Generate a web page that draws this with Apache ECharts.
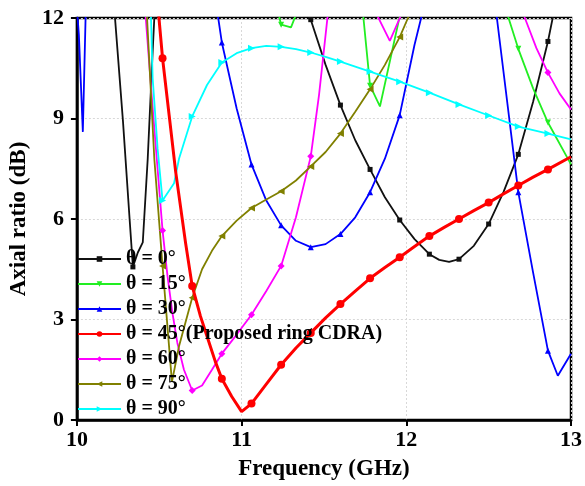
<!DOCTYPE html>
<html><head><meta charset="utf-8">
<script src="https://cdn.jsdelivr.net/npm/echarts@6/dist/echarts.min.js"></script>
<style>html,body{margin:0;padding:0;background:#fff}#c{width:585px;height:486px}</style>
</head><body><div id="c"></div>
<script>
const seriesNames = ['θ = 0°','θ = 15°','θ = 30°','θ = 45°(Proposed ring CDRA)','θ = 60°','θ = 75°','θ = 90°'];
const xTicks = [10, 11, 12, 13];
const yTicks = [0, 3, 6, 9, 12];
const markerFreqs = [10.16,10.34,10.52,10.70,10.88,11.06,11.24,11.42,11.60,11.78,11.96,12.14,12.32,12.50,12.68,12.86];

const theta0 = [[10.0,18],[10.2,14],[10.28,8.9],[10.32,6.0],[10.34,4.57],[10.37,5.0],[10.40,5.3],[10.43,7.8],[10.46,11.0],[10.49,14],[10.7,20],[11.0,20],[11.3,13.8],[11.42,11.95],[11.51,10.6],[11.60,9.4],[11.69,8.35],[11.78,7.48],[11.87,6.65],[11.96,5.97],[12.05,5.4],[12.14,4.95],[12.20,4.78],[12.26,4.72],[12.32,4.8],[12.41,5.2],[12.50,5.85],[12.59,6.8],[12.68,7.93],[12.77,9.5],[12.86,11.3],[12.93,13.0],[13.0,14.6]];
const theta15 = [[10.0,20],[10.5,22],[11.0,16],[11.18,13],[11.24,11.8],[11.30,11.72],[11.37,12.6],[11.5,16],[11.70,14],[11.78,9.98],[11.84,9.36],[11.96,12.05],[12.05,14],[12.3,18],[12.55,13.1],[12.68,11.08],[12.77,9.9],[12.86,8.88],[13.0,7.63]];
const theta30 = [[10.0,12.3],[10.012,11.5],[10.036,8.6],[10.06,13.5],[10.3,22],[10.6,22],[10.84,12.6],[10.88,11.27],[10.97,9.3],[11.06,7.63],[11.15,6.55],[11.24,5.81],[11.33,5.35],[11.42,5.16],[11.51,5.25],[11.60,5.55],[11.69,6.05],[11.78,6.8],[11.87,7.8],[11.96,9.1],[12.05,11.2],[12.14,13],[12.3,16],[12.5,13.5],[12.55,12.0],[12.68,6.8],[12.77,4.4],[12.86,2.07],[12.92,1.32],[13.0,1.98]];
const theta45 = [[10.0,25],[10.3,20],[10.48,13],[10.52,10.8],[10.56,9.1],[10.60,7.4],[10.66,5.28],[10.70,4.0],[10.75,3.1],[10.79,2.5],[10.84,1.75],[10.88,1.23],[10.94,0.7],[11.0,0.25],[11.06,0.49],[11.15,1.07],[11.24,1.65],[11.33,2.15],[11.42,2.6],[11.51,3.05],[11.60,3.46],[11.69,3.85],[11.78,4.23],[11.87,4.55],[11.96,4.86],[12.05,5.18],[12.14,5.49],[12.23,5.75],[12.32,6.0],[12.41,6.25],[12.50,6.49],[12.59,6.75],[12.68,7.0],[12.77,7.25],[12.86,7.48],[13.0,7.86]];
const theta60 = [[10.0,25],[10.3,18],[10.40,13.3],[10.418,12],[10.457,9.5],[10.52,5.66],[10.55,4.3],[10.58,3.2],[10.61,2.3],[10.65,1.5],[10.70,0.88],[10.76,1.03],[10.82,1.5],[10.88,1.98],[10.97,2.55],[11.06,3.14],[11.15,3.85],[11.24,4.6],[11.33,6.05],[11.42,7.87],[11.47,9.7],[11.53,12.4],[11.6,14],[11.73,13],[11.90,11.32],[12.05,13.0],[12.3,17],[12.6,13.6],[12.72,12.0],[12.79,11.1],[12.86,10.37],[12.93,9.75],[13.0,9.27]];
const theta75 = [[10.0,25],[10.3,18],[10.40,14.5],[10.426,12],[10.47,7.8],[10.52,4.6],[10.577,1.14],[10.62,2.2],[10.70,3.65],[10.76,4.5],[10.82,5.05],[10.88,5.49],[10.97,5.95],[11.06,6.33],[11.15,6.58],[11.24,6.83],[11.33,7.15],[11.42,7.57],[11.51,8.0],[11.60,8.55],[11.69,9.2],[11.78,9.87],[11.87,10.6],[11.96,11.43],[12.01,12.0],[12.1,13]];
const theta90 = [[10.0,25],[10.3,18],[10.43,14.5],[10.45,12],[10.46,10.2],[10.49,8.1],[10.52,6.55],[10.59,7.07],[10.62,7.8],[10.70,9.06],[10.79,10.0],[10.88,10.67],[10.97,10.95],[11.06,11.1],[11.15,11.17],[11.24,11.14],[11.33,11.07],[11.42,10.97],[11.51,10.84],[11.60,10.7],[11.69,10.55],[11.78,10.4],[11.87,10.25],[11.96,10.1],[12.14,9.77],[12.32,9.42],[12.50,9.09],[12.68,8.76],[12.86,8.55],[13.0,8.38]];

const seriesData = [theta0, theta15, theta30, theta45, theta60, theta75, theta90];
const colors = ['#111111','#22ee22','#0000ff','#ff0000','#ff00ff','#808000','#00ffff'];
const symbols = ['rect','path://M0,0 L10,0 L5,10 Z','triangle','circle','diamond','path://M10,0 L10,10 L0,5 Z','path://M0,0 L10,5 L0,10 Z'];
const symbolSizes = [5,6,6,8,7,7,7];
const lineWidths = [1.8,1.8,1.8,3,1.8,1.8,1.8];

function isMarker(f){ return markerFreqs.some(m => Math.abs(m - f) < 1e-6); }
function build(points){ return points.map(p => isMarker(p[0]) ? p : {value: p, symbol: 'none'}); }

const serif = 'Liberation Serif';
const chart = echarts.init(document.getElementById('c'));
chart.setOption({
  animation: false,
  backgroundColor: '#fff',
  grid: {left: 72, right: 13, top: 18, bottom: 65, show: true, borderColor: '#000', borderWidth: 2.5, backgroundColor: 'transparent'},
  xAxis: {
    type: 'value', min: xTicks[0], max: xTicks[xTicks.length-1], interval: 1,
    name: 'Frequency (GHz)', nameLocation: 'middle', nameGap: 38,
    nameTextStyle: {fontFamily: serif, fontWeight: 'bold', fontSize: 23, color: '#000'},
    axisLine: {lineStyle: {color: '#000', width: 2.5}},
    axisTick: {inside: false, length: 6, lineStyle: {color: '#000', width: 2}},
    axisLabel: {margin: 9, fontFamily: serif, fontWeight: 'bold', fontSize: 22, color: '#000'},
    splitLine: {show: true, lineStyle: {color: '#d8d8d8', type: [2, 2], width: 1}}
  },
  yAxis: {
    type: 'value', min: yTicks[0], max: yTicks[yTicks.length-1], interval: 3,
    name: 'Axial ratio (dB)', nameLocation: 'middle', nameGap: 36,
    nameTextStyle: {fontFamily: serif, fontWeight: 'bold', fontSize: 23, color: '#000'},
    axisLine: {lineStyle: {color: '#000', width: 2.5}},
    axisTick: {inside: false, length: 6, lineStyle: {color: '#000', width: 2}},
    axisLabel: {margin: 13, fontFamily: serif, fontWeight: 'bold', fontSize: 22, color: '#000'},
    splitLine: {show: true, lineStyle: {color: '#d8d8d8', type: [2, 2], width: 1}}
  },
  legend: {
    orient: 'vertical', left: 72, top: 244, itemWidth: 43, itemHeight: 7, itemGap: 5,
    textStyle: {fontFamily: serif, fontWeight: 'bold', fontSize: 20, lineHeight: 20, color: '#000'},
    data: seriesNames
  },
  series: seriesData.map((pts, i) => ({
    name: seriesNames[i], type: 'line', clip: true, smooth: false,
    z: i === 3 ? 3 : 2,
    symbol: symbols[i], symbolSize: symbolSizes[i], showSymbol: true,
    color: colors[i],
    itemStyle: {color: colors[i]},
    lineStyle: {color: colors[i], width: lineWidths[i]},
    data: build(pts)
  }))
});
</script></body></html>
